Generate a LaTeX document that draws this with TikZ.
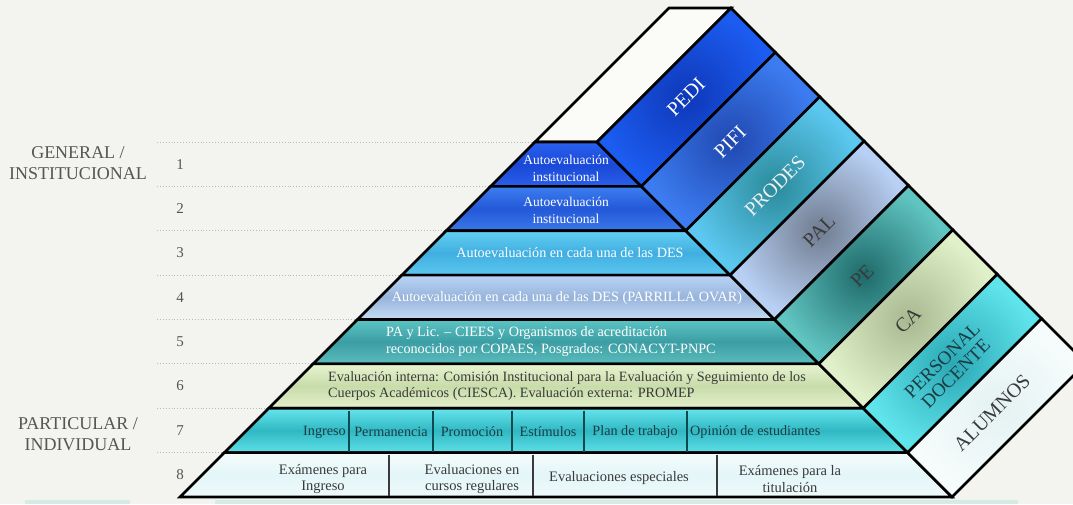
\documentclass[tikz,border=0pt]{standalone}
\usepackage{fontspec}
\setmainfont{Liberation Serif}
\definecolor{bgc}{HTML}{F3F3EF}
\definecolor{wpar}{HTML}{FBFBF8}
\definecolor{r1t}{HTML}{2A62F0}\definecolor{r1m}{HTML}{1A48D8}\definecolor{r1b}{HTML}{2A5EE8}
\definecolor{r2t}{HTML}{3C7EF0}\definecolor{r2m}{HTML}{2458D8}\definecolor{r2b}{HTML}{3A78EA}
\definecolor{r3t}{HTML}{64D0F4}\definecolor{r3m}{HTML}{40AEE0}\definecolor{r3b}{HTML}{5CC8F0}
\definecolor{r4t}{HTML}{B8D4F6}\definecolor{r4m}{HTML}{98B4DA}\definecolor{r4b}{HTML}{C4DCF6}
\definecolor{r5t}{HTML}{5CC4C4}\definecolor{r5m}{HTML}{3C9EA4}\definecolor{r5b}{HTML}{5ABCBC}
\definecolor{r6t}{HTML}{E8F4D0}\definecolor{r6m}{HTML}{C8DCAA}\definecolor{r6b}{HTML}{E4F0CC}
\definecolor{r7t}{HTML}{66E4EC}\definecolor{r7m}{HTML}{30B8C2}\definecolor{r7b}{HTML}{5EE0E8}
\definecolor{r8t}{HTML}{F4FCFC}\definecolor{r8m}{HTML}{E4F6F8}\definecolor{r8b}{HTML}{EEF9FA}
\definecolor{s1i}{HTML}{0E38B8}\definecolor{s1o}{HTML}{1C5CF0}
\definecolor{s2i}{HTML}{2048B0}\definecolor{s2o}{HTML}{3C7CF0}
\definecolor{s3i}{HTML}{2A8A9A}\definecolor{s3o}{HTML}{5CC8F0}
\definecolor{s4i}{HTML}{707C90}\definecolor{s4o}{HTML}{B8D0F4}
\definecolor{s5i}{HTML}{1E6A6A}\definecolor{s5o}{HTML}{60C4C0}
\definecolor{s6i}{HTML}{A8B890}\definecolor{s6o}{HTML}{E0F0C8}
\definecolor{s7i}{HTML}{2AA8B4}\definecolor{s7o}{HTML}{60E4EC}
\definecolor{s8i}{HTML}{E4F2F2}\definecolor{s8o}{HTML}{F6FCFC}
\definecolor{labgray}{HTML}{555555}
\definecolor{darktxt}{HTML}{3A3A3A}
\definecolor{r7txt}{HTML}{1C3C44}
\definecolor{r7div}{HTML}{0E4A50}
\definecolor{botbar}{HTML}{D5ECE6}
\begin{document}
\begin{tikzpicture}[x=1pt,y=-1pt,
  edge/.style={draw=black, line width=2.6pt, line join=miter},
  rowtxt/.style={font=\fontsize{14.2}{17}\selectfont, align=center, inner sep=0pt},
  smalltxt/.style={font=\fontsize{13.5}{17}\selectfont, align=center, inner sep=0pt, text=white},
  cell8/.style={font=\fontsize{14.5}{16.5}\selectfont, align=center, inner sep=0pt, text=darktxt},
  striptxt/.style={font=\fontsize{20}{21}\selectfont, align=center, rotate=45, inner sep=0pt},
  lefttxt/.style={font=\fontsize{18}{21}\selectfont, text=labgray, align=center, inner sep=0pt},
  numtxt/.style={font=\fontsize{15}{15}\selectfont, text=labgray, inner sep=0pt},
  dots/.style={draw=gray!55, dotted, line width=0.9pt}
]
\fill[bgc] (0,0) rectangle (1073,504);
\useasboundingbox (0,0) rectangle (1073,504);
\clip (0,0) rectangle (1073,504);
% bottom light bars
\fill[botbar] (25,500) rectangle (130,504);
\fill[botbar] (215,500) rectangle (1018,504);
% dotted guide lines and numbers
\foreach \k in {0,...,7}{
  \pgfmathsetmacro\yy{142+44.375*\k}
  \draw[dots] (157,\yy) -- ({677-\yy},\yy);
}
\foreach \k in {1,...,8}{
  \pgfmathsetmacro\yy{142+44.375*(\k-0.5)}
  \node[numtxt] (n\k) at (180,\yy) {\k};
}
\node[lefttxt] (gen) at (78,163) {GENERAL /\\INSTITUCIONAL};
\node[lefttxt] (par) at (78,434) {PARTICULAR /\\INDIVIDUAL};
% white parallelogram
\path[edge, fill=wpar] (535,142) -- (669,8) -- (731,8) -- (597,142) -- cycle;
% rows and band strips
\foreach \k in {1,...,8}{
  \pgfmathsetmacro\ya{142+44.375*(\k-1)}
  \pgfmathsetmacro\yb{142+44.375*\k}
  \path[edge, top color=r\k t, bottom color=r\k b, middle color=r\k m]
    ({677-\ya},\ya) -- ({455+\ya},\ya) -- ({455+\yb},\yb) -- ({677-\yb},\yb) -- cycle;
  \path[edge, inner color=s\k i, outer color=s\k o]
    ({455+\ya},\ya) -- ({455+\yb},\yb) -- ({589+\yb},{\yb-134}) -- ({589+\ya},{\ya-134}) -- cycle;
}
% row 7 and row 8 cell dividers
\foreach \xx in {349,433,512,584,687}{
  \draw[r7div, line width=1.8pt] (\xx,410.5) -- (\xx,451.5);
}
\foreach \xx in {389,533,717}{
  \draw[darktxt, line width=1.5pt] (\xx,454.5) -- (\xx,495.5);
}
% row texts
\node[smalltxt] (t1) at (566,168) {Autoevaluación\\institucional};
\node[smalltxt] (t2) at (566,210) {Autoevaluación\\institucional};
\node[rowtxt, text=white] (t3) at (570,253) {Autoevaluación en cada una de las DES};
\node[rowtxt, text=white] (t4) at (567,298) {Autoevaluación en cada una de las DES (PARRILLA OVAR)};
\node[rowtxt, text=white, align=left, anchor=west] (t5) at (386,342) {PA y Lic. – CIEES y Organismos de acreditación\\reconocidos por COPAES, Posgrados: CONACYT-PNPC};
\node[rowtxt, text=darktxt, align=left, anchor=west, font=\fontsize{14.2}{16.5}\selectfont] (t6) at (328,386) {Evaluación interna: Comisión Institucional para la Evaluación y Seguimiento de los\\Cuerpos Académicos (CIESCA). Evaluación externa: PROMEP};
\node[rowtxt, text=r7txt, anchor=east] (c71) at (346,432) {Ingreso};
\node[rowtxt, text=r7txt] (c72) at (391,432) {Permanencia};
\node[rowtxt, text=r7txt] (c73) at (472,432) {Promoción};
\node[rowtxt, text=r7txt] (c74) at (548,432) {Estímulos};
\node[rowtxt, text=r7txt] (c75) at (635,432) {Plan de trabajo};
\node[rowtxt, text=r7txt, anchor=west] (c76) at (690,432) {Opinión de estudiantes};
\node[cell8] (c81) at (323,479) {Exámenes para\\Ingreso};
\node[cell8] (c82) at (472,479) {Evaluaciones en\\cursos regulares};
\node[cell8] (c83) at (619,478) {Evaluaciones especiales};
\node[cell8] (c84) at (790,479) {Exámenes para la\\titulación};
% strip labels
\node[striptxt, text=white] (s1) at (686,97) {PEDI};
\node[striptxt, text=white] (s2) at (730,142) {PIFI};
\node[striptxt, text=white!88!gray] (s3) at (775,186) {PRODES};
\node[striptxt, text=darktxt] (s4) at (819,231) {PAL};
\node[striptxt, text=darktxt] (s5) at (862,276) {PE};
\node[striptxt, text=darktxt] (s6) at (908,320) {CA};
\node[striptxt, text=r7txt, font=\fontsize{19}{19}\selectfont] (s7) at (949,367) {PERSONAL\\DOCENTE};
\node[striptxt, text=darktxt] (s8) at (992,413) {ALUMNOS};
\end{tikzpicture}
\end{document}
